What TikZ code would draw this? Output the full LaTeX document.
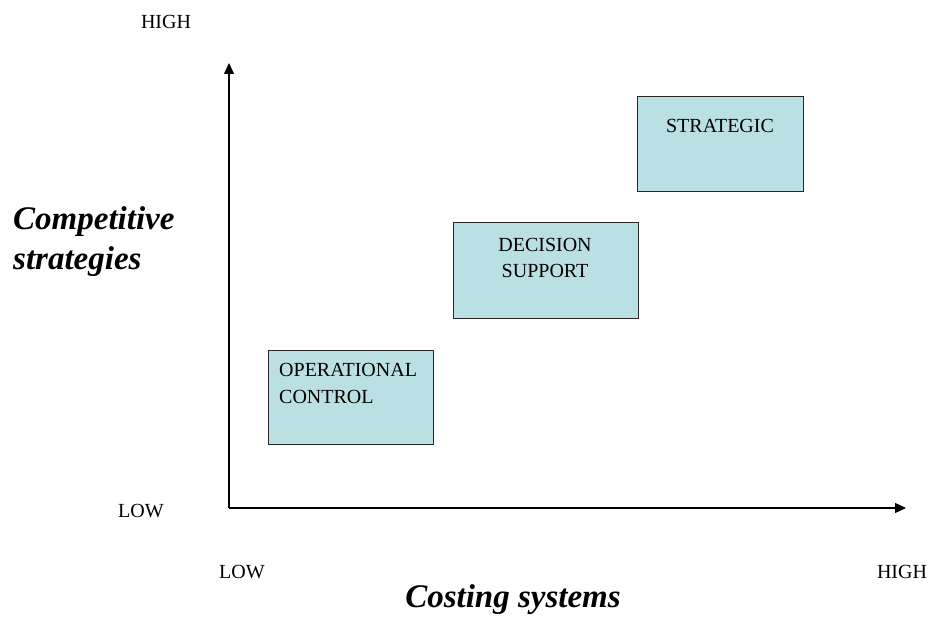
\documentclass[tikz,border=0pt]{standalone}
\usepackage{fontspec}
\setmainfont{Liberation Serif}
\usetikzlibrary{arrows.meta}
\definecolor{boxfill}{RGB}{187,224,227}
\definecolor{boxline}{RGB}{40,40,40}
\tikzset{
  quad/.style={draw=boxline, line width=1pt, fill=boxfill, inner sep=0pt},
  small/.style={font=\fontsize{20}{24}\selectfont, inner sep=0pt},
  big/.style={font=\fontsize{33}{40}\selectfont\bfseries\itshape, inner sep=0pt},
  axis/.style={line width=1.2pt, -{Triangle[length=11pt,width=10pt]}}
}
\begin{document}
\begin{tikzpicture}[x=1pt,y=-1pt]
\useasboundingbox (0,0) rectangle (933,617);
% axes
\coordinate (O) at (229,508);
\coordinate (ytop) at (229,63);
\coordinate (xend) at (906,508);
\draw[axis] (O) -- (ytop);
\draw[axis] (O) -- (xend);
% boxes
\node[quad, minimum width=165pt, minimum height=94pt, anchor=north west] (op) at (268,350) {};
\node[quad, minimum width=185pt, minimum height=96pt, anchor=north west] (dec) at (453,222) {};
\node[quad, minimum width=166pt, minimum height=95pt, anchor=north west] (str) at (637,96) {};
% box texts
\node[small, anchor=base west] (op1) at (279,376) {OPERATIONAL};
\node[small, anchor=base west] (op2) at (279,403) {CONTROL};
\node[small, anchor=base] (dec1) at (545,252) {DECISION};
\node[small, anchor=base] (dec2) at (545,278) {SUPPORT};
\node[small, anchor=base] (str1) at (720,133) {STRATEGIC};
% axis labels
\node[small, anchor=base] (yhigh) at (166,29) {HIGH};
\node[small, anchor=base] (ylow) at (141,517) {LOW};
\node[small, anchor=base] (xlow) at (242,578) {LOW};
\node[small, anchor=base] (xhigh) at (902,578) {HIGH};
\node[big, anchor=base west] (comp1) at (13,230) {Competitive};
\node[big, anchor=base west] (comp2) at (13,270) {strategies};
\node[big, anchor=base] (cost) at (513,607) {Costing systems};
\end{tikzpicture}
\end{document}
